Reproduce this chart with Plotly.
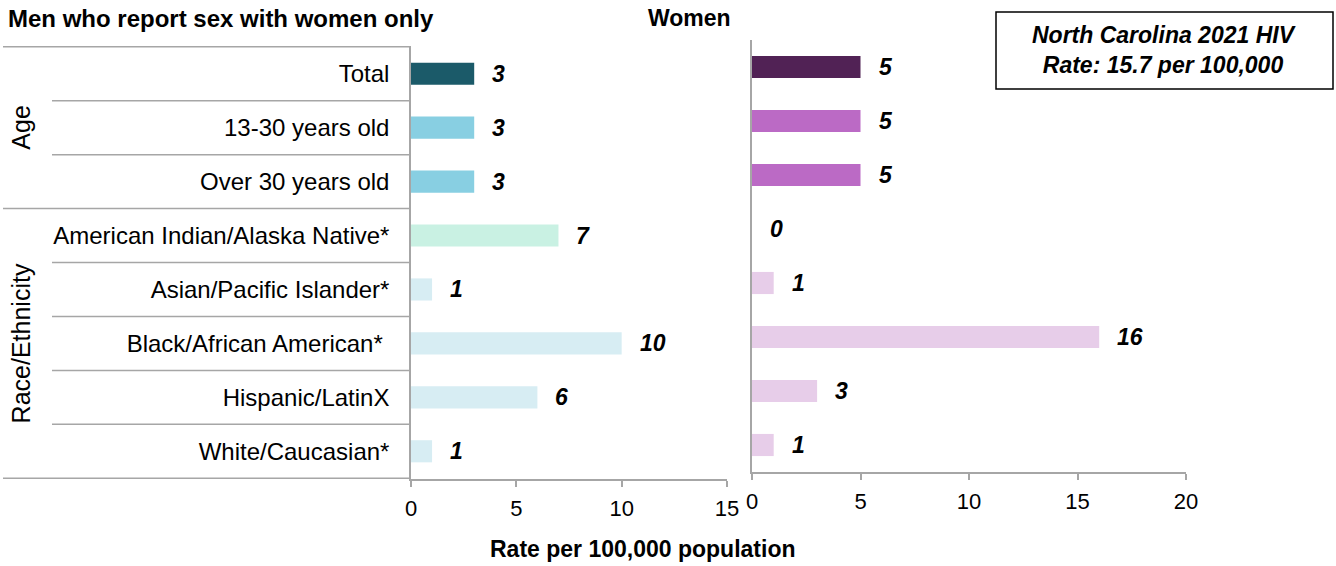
import plotly.graph_objects as go

categories = ["Total", "13-30 years old", "Over 30 years old",
              "American Indian/Alaska Native*", "Asian/Pacific Islander*",
              "Black/African American* ", "Hispanic/LatinX", "White/Caucasian*"]
men_values = [3, 3, 3, 7, 1, 10, 6, 1]
women_values = [5, 5, 5, 0, 1, 16, 3, 1]
men_colors = ["#1B5A69", "#88CFE2", "#88CFE2", "#C9F1E3", "#D7EDF3", "#D7EDF3", "#D7EDF3", "#D7EDF3"]
women_colors = ["#512255", "#BB6AC5", "#BB6AC5", "#E7CDE9", "#E7CDE9", "#E7CDE9", "#E7CDE9", "#E7CDE9"]
groups = [("Age", 0, 2), ("Race/Ethnicity", 3, 7)]
men_ticks = [0, 5, 10, 15]
women_ticks = [0, 5, 10, 15, 20]

W, H = 1336, 566
FONT = "Liberation Sans, Arial, sans-serif"
GRAY = "#A6A6A6"

def px(x):
    return x / W

def py(y):
    return 1 - y / H

fig = go.Figure()
fig.add_trace(go.Bar(x=men_values, y=categories, orientation="h",
                     marker=dict(color=men_colors, line=dict(width=0)),
                     width=0.41, xaxis="x", yaxis="y", showlegend=False,
                     hoverinfo="x+y"))
fig.add_trace(go.Bar(x=women_values, y=categories, orientation="h",
                     marker=dict(color=women_colors, line=dict(width=0)),
                     width=0.41, xaxis="x2", yaxis="y2", showlegend=False,
                     hoverinfo="x+y"))

label_font = dict(family=FONT, size=23, color="black", weight="bold", style="italic")
annotations = []
for c, v in zip(categories, men_values):
    annotations.append(dict(x=v, y=c, xref="x", yref="y", text=str(v),
                            xanchor="left", yanchor="middle", xshift=16, showarrow=False,
                            font=label_font))
for c, v in zip(categories, women_values):
    annotations.append(dict(x=v, y=c, xref="x2", yref="y2", text=str(v),
                            xanchor="left", yanchor="middle", xshift=16, showarrow=False,
                            font=label_font))

# group labels
for name, i0, i1 in groups:
    annotations.append(dict(x=px(21), y=(i0 + i1) / 2, xref="paper", yref="y", text=name,
                            textangle=-90, showarrow=False, xanchor="center", yanchor="middle",
                            font=dict(family=FONT, size=25, color="black")))

# titles
annotations.append(dict(x=px(6), y=py(3), xref="paper", yref="paper",
                        text="<b>Men who report sex with women only</b>", showarrow=False,
                        xanchor="left", yanchor="top",
                        font=dict(family=FONT, size=24, color="black")))
annotations.append(dict(x=px(646), y=py(3), xref="paper", yref="paper",
                        text="<b>Women</b>", showarrow=False,
                        xanchor="left", yanchor="top",
                        font=dict(family=FONT, size=23, color="black")))
annotations.append(dict(x=px(642), y=py(564), xref="paper", yref="paper",
                        text="<b>Rate per 100,000 population</b>", showarrow=False,
                        xanchor="center", yanchor="bottom",
                        font=dict(family=FONT, size=23, color="black")))
annotations.append(dict(x=px(1164), y=py(50), xref="paper", yref="paper",
                        text="<b><i>North Carolina 2021 HIV<br>Rate: 15.7 per 100,000</i></b>",
                        showarrow=False, xanchor="center", yanchor="middle",
                        font=dict(family=FONT, size=23, color="black")))

shapes = []
group_starts = {g[1] for g in groups}
for k in range(len(categories) + 1):
    b = k - 0.5
    full = (k in group_starts) or k == len(categories)
    x0 = px(3) if full else px(52)
    shapes.append(dict(type="line", xref="paper", yref="y", x0=x0, x1=px(411),
                       y0=b, y1=b, line=dict(color=GRAY, width=1.5)))
shapes.append(dict(type="rect", xref="paper", yref="paper", x0=px(996), x1=px(1333),
                   y0=py(89), y1=py(12), line=dict(color="black", width=1.5),
                   fillcolor="white", layer="below"))

axis_common = dict(showgrid=False, zeroline=False, showline=True, linecolor=GRAY, linewidth=1.5,
                   automargin=False, fixedrange=True)

fig.update_layout(
    width=W, height=H, autosize=False,
    margin=dict(l=0, r=0, t=0, b=0, pad=0, autoexpand=False),
    paper_bgcolor="white", plot_bgcolor="white",
    font=dict(family=FONT, color="black"),
    xaxis=dict(domain=[px(411), px(727)], range=[0, 15], tickvals=men_ticks,
               ticks="outside", ticklen=6, tickcolor=GRAY, tickwidth=1.5, ticklabelstandoff=3,
               tickfont=dict(size=22, family=FONT, color="black"), anchor="y",
               **axis_common),
    yaxis=dict(domain=[py(479), py(46)], categoryorder="array", categoryarray=categories,
               autorange="reversed", ticks="", ticklabelstandoff=15,
               tickfont=dict(size=24, family=FONT, color="black"), anchor="x",
               **axis_common),
    xaxis2=dict(domain=[px(752), px(1186)], range=[0, 20], tickvals=women_ticks,
                ticks="outside", ticklen=6, tickcolor=GRAY, tickwidth=1.5, ticklabelstandoff=3,
                tickfont=dict(size=22, family=FONT, color="black"), anchor="y2",
                **axis_common),
    yaxis2=dict(domain=[py(472), py(40)], categoryorder="array", categoryarray=categories,
                autorange="reversed", showticklabels=False, ticks="", anchor="x2",
                **axis_common),
    annotations=annotations,
    shapes=shapes,
)

page_js = """
document.documentElement.style.margin='0';
document.documentElement.style.overflow='hidden';
document.body.style.margin='0';
document.body.style.padding='0';
document.body.style.overflow='hidden';
"""

fig.write_html("out.html", post_script=page_js,
               config={"responsive": False, "displayModeBar": False})
